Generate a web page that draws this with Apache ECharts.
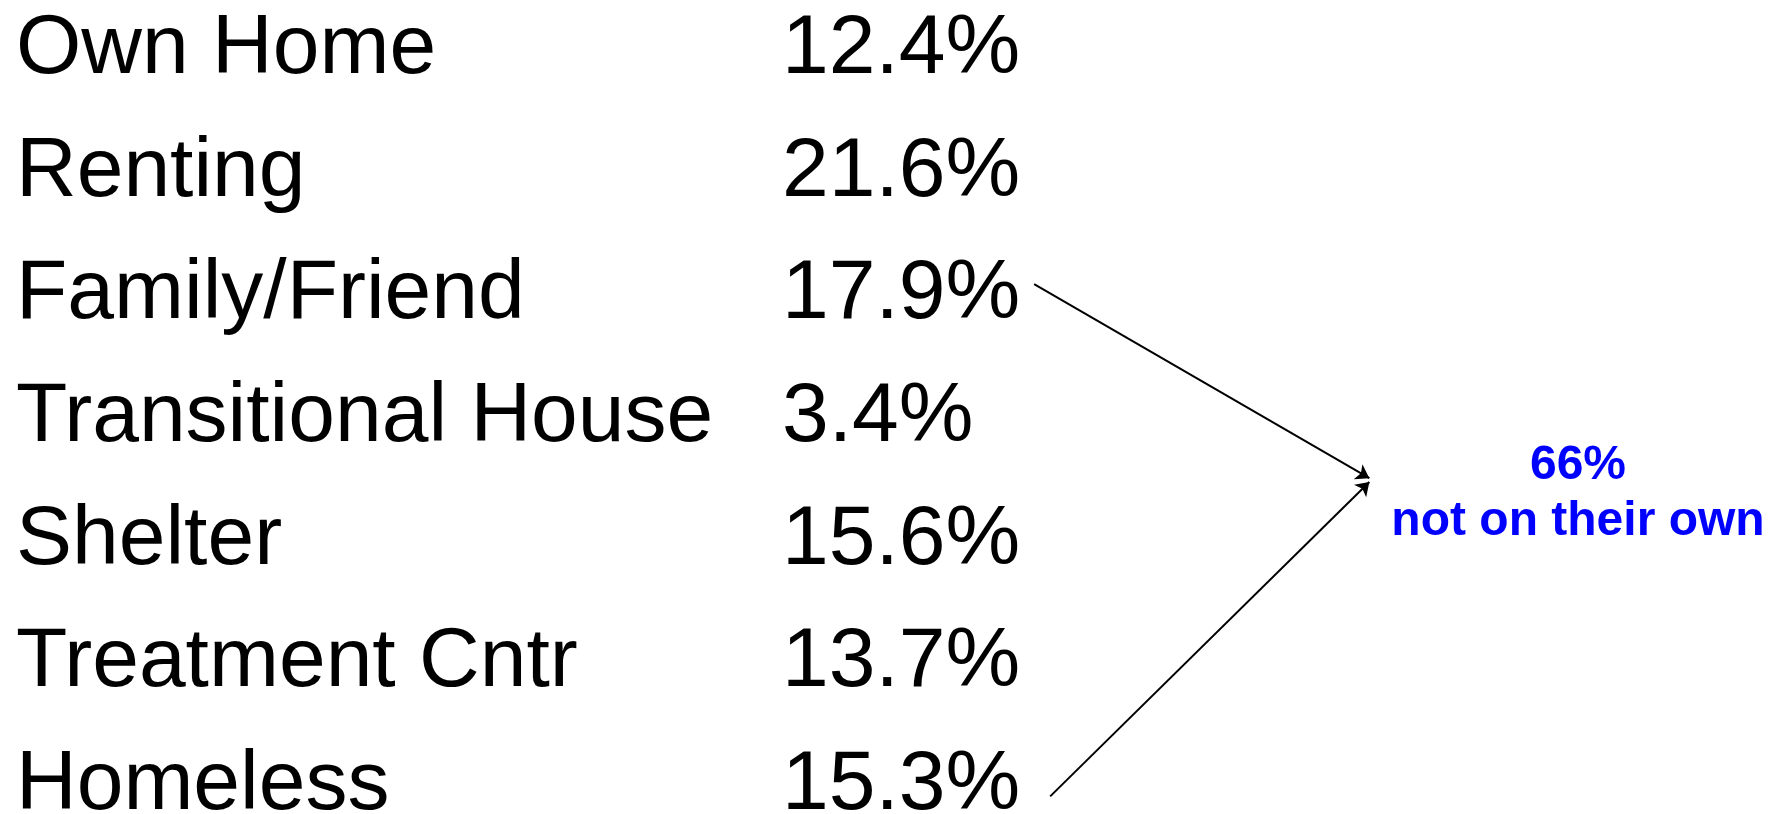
<!DOCTYPE html>
<html>
<head>
<meta charset="utf-8">
<script src="https://cdn.jsdelivr.net/npm/echarts@6/dist/echarts.min.js"></script>
<style>
html,body{margin:0;padding:0;background:#fff;}
#chart{width:1783px;height:814px;}
</style>
</head>
<body>
<div id="chart"></div>
<script>
// Data
var categories = ['Own Home', 'Renting', 'Family/Friend', 'Transitional House', 'Shelter', 'Treatment Cntr', 'Homeless'];
var values = [12.4, 21.6, 17.9, 3.4, 15.6, 13.7, 15.3];
var summaryValue = '66%';
var summaryText = 'not on their own';
// Arrows in (x: % of width, y: row index) space
var arrowFrom = [[58.0, 1.89], [58.9, 6.06]];
var arrowTo = [[76.8, 3.47], [76.8, 3.50]];

var FONT = '"Liberation Sans", Arial, Helvetica, sans-serif';
var valueLabels = values.map(function (v) { return v.toFixed(1) + '%'; });

var chart = echarts.init(document.getElementById('chart'), null, {renderer: 'canvas'});
chart.setOption({
  animation: false,
  backgroundColor: '#ffffff',
  grid: [
    {left: 16, top: 50, width: 766, bottom: 28, containLabel: false, outerBoundsMode: 'none'},
    {left: 0, right: 0, top: 52, bottom: 25, containLabel: false, outerBoundsMode: 'none'}
  ],
  xAxis: [
    {type: 'value', gridIndex: 0, min: 0, max: 100, show: false},
    {type: 'value', gridIndex: 1, min: 0, max: 100, show: false}
  ],
  yAxis: [
    {
      type: 'category', gridIndex: 0, position: 'left', inverse: true, boundaryGap: false,
      data: categories,
      axisLine: {show: false}, axisTick: {show: false}, splitLine: {show: false},
      axisLabel: {interval: 0, align: 'left', margin: 0, fontSize: 84, color: '#000', fontFamily: FONT}
    },
    {
      type: 'category', gridIndex: 0, position: 'right', inverse: true, boundaryGap: false,
      data: valueLabels,
      axisLine: {show: false}, axisTick: {show: false}, splitLine: {show: false},
      axisLabel: {interval: 0, align: 'left', margin: 0, fontSize: 84, color: '#000', fontFamily: FONT}
    },
    {type: 'value', gridIndex: 1, min: 0, max: 6, inverse: true, show: false}
  ],
  series: [
    {
      type: 'lines',
      coordinateSystem: 'cartesian2d',
      xAxisIndex: 1,
      yAxisIndex: 2,
      clip: false,
      symbol: ['none', 'arrow'],
      symbolSize: 13,
      lineStyle: {color: '#000', width: 2, opacity: 1},
      data: arrowFrom.map(function (p, i) { return {coords: [p, arrowTo[i]]}; })
    }
  ],
  graphic: [
    {type: 'text', x: 1578, y: 466,
     style: {text: summaryValue, fill: '#0000ff', font: 'bold 48px ' + FONT, textAlign: 'center', textVerticalAlign: 'middle'}},
    {type: 'text', x: 1578, y: 522,
     style: {text: summaryText, fill: '#0000ff', font: 'bold 48px ' + FONT, textAlign: 'center', textVerticalAlign: 'middle'}}
  ]
});
</script>
</body>
</html>
